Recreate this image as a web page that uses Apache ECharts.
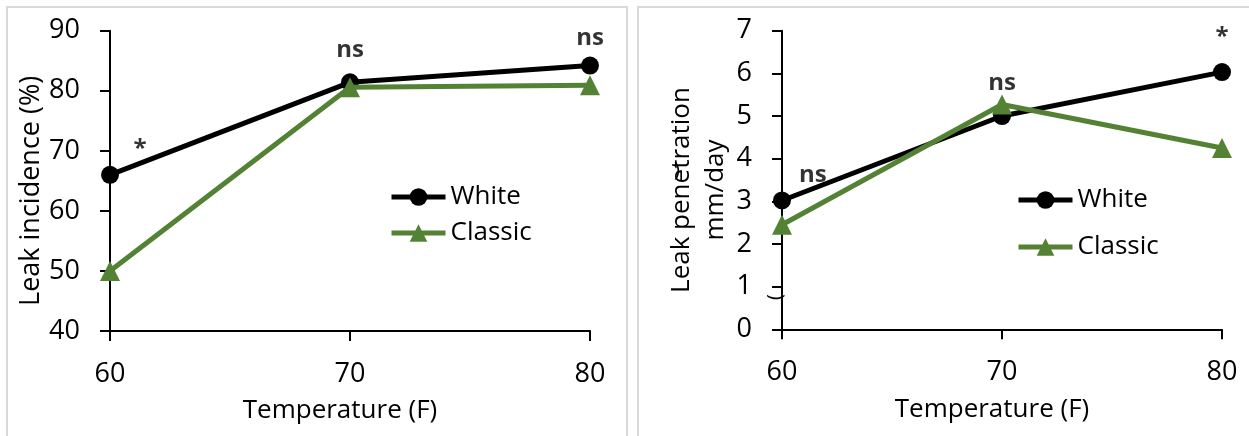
<!DOCTYPE html>
<html>
<head>
<meta charset="utf-8">
<script src="https://cdn.jsdelivr.net/npm/echarts@6/dist/echarts.min.js"></script>
<style>
  html, body { margin: 0; padding: 0; background: #fff; }
  #chart { width: 1249px; height: 436px; }
</style>
</head>
<body>
<div id="chart"></div>
<script>
// temperatures (F)
const temps = [60, 70, 80]
// leak incidence (%)
const incidenceWhite = [66, 81.4, 84.2]
const incidenceClassic = [50, 80.6, 80.9]
// leak penetration (mm/day)
const penetrationWhite = [3.02, 5.0, 6.03]
const penetrationClassic = [2.45, 5.27, 4.25]
// significance marks: [temperature, value, text]
const marksLeft = [[61.25, 70.3, '*'], [70, 86.8, 'ns'], [80, 88.8, 'ns']]
const marksRight = [[61.4, 3.62, 'ns'], [70, 5.77, 'ns'], [80, 6.85, '*']]

const BLACK = '#000000'
const GREEN = '#548235'
const FONT = 'Open Sans'

const pairs = (ys) => temps.map((t, i) => [t, ys[i]])

const axisLine = { show: true, onZero: false, lineStyle: { color: BLACK, width: 2 } }
const axisTick = { show: true, inside: false, length: 10, lineStyle: { color: BLACK, width: 2 } }
const axisLabel = { color: BLACK, fontSize: 27, fontFamily: FONT, margin: 30 }

const xAxisOf = (idx) => ({
  type: 'value', gridIndex: idx, min: 60, max: 80, interval: 10,
  axisLine, axisTick, axisLabel, splitLine: { show: false },
  name: 'Temperature (F)', nameLocation: 'middle', nameGap: 67,
  nameTextStyle: { color: BLACK, fontSize: 26, fontFamily: FONT, padding: [0, 20, 0, 0] }
})

const lineSeries = (name, data, idx, color, symbol, size) => ({
  name, type: 'line', xAxisIndex: idx, yAxisIndex: idx, data,
  symbol, symbolSize: size, showAllSymbol: true,
  lineStyle: { color, width: 5 },
  itemStyle: { color },
  z: name === 'Classic' ? 3 : 2
})

const markSeries = (marks, idx) => ({
  type: 'scatter', xAxisIndex: idx, yAxisIndex: idx, symbolSize: 0,
  data: marks.map(m => ({ value: [m[0], m[1]], text: m[2] })),
  label: {
    show: true, position: 'inside', color: BLACK, fontSize: 24, fontWeight: 'bold',
    fontFamily: FONT, formatter: p => p.data.text
  },
  silent: true, z: 5
})

const legendOf = (left, top, gap) => ({
  data: ['White', 'Classic'], orient: 'vertical', left, top, padding: 0,
  itemWidth: 54, itemHeight: 22, itemGap: gap,
  lineStyle: { width: 5 },
  textStyle: { color: BLACK, fontSize: 26, fontFamily: FONT, padding: [0, 0, 0, 0] }
})

const option = {
  animation: false,
  textStyle: { fontFamily: FONT },
  grid: [
    { left: 110, top: 30.7, width: 480, height: 300.3 },
    { left: 782, top: 30.7, width: 440, height: 298.6 }
  ],
  xAxis: [xAxisOf(0), xAxisOf(1)],
  yAxis: [
    {
      type: 'value', gridIndex: 0, min: 40, max: 90, interval: 10,
      axisLine, axisTick, axisLabel, splitLine: { show: false },
      name: 'Leak incidence (%)', nameLocation: 'middle', nameGap: 52,
      nameTextStyle: { color: BLACK, fontSize: 27, fontFamily: FONT, padding: [0, 20, 0, 0] }
    },
    {
      type: 'value', gridIndex: 1, min: 0, max: 7, interval: 1,
      axisLine, axisTick, axisLabel, splitLine: { show: false },
      name: 'Leak penetration\nmm/day', nameLocation: 'middle', nameGap: 48,
      nameTextStyle: { color: BLACK, fontSize: 26, fontFamily: FONT, lineHeight: 34, padding: [0, 20, 0, 0] }
    }
  ],
  legend: [legendOf(389, 184, 10), legendOf(1016, 187, 21)],
  series: [
    lineSeries('White', pairs(incidenceWhite), 0, BLACK, 'circle', 18),
    lineSeries('Classic', pairs(incidenceClassic), 0, GREEN, 'triangle', 20),
    lineSeries('White', pairs(penetrationWhite), 1, BLACK, 'circle', 18),
    lineSeries('Classic', pairs(penetrationClassic), 1, GREEN, 'triangle', 20),
    markSeries(marksLeft, 0),
    markSeries(marksRight, 1)
  ],
  graphic: [
    { type: 'rect', shape: { x: 7, y: 7, width: 620, height: 440 }, style: { fill: 'none', stroke: '#d9d9d9', lineWidth: 2 }, silent: true },
    { type: 'rect', shape: { x: 638, y: 7, width: 620, height: 440 }, style: { fill: 'none', stroke: '#d9d9d9', lineWidth: 2 }, silent: true },
    { type: 'text', x: 674, y: 160, style: { text: ')', fontSize: 20, fontFamily: FONT, fill: BLACK }, silent: true },
    { type: 'text', x: 765, y: 300, rotation: Math.PI / 2, style: { text: '(', fontSize: 20, fontFamily: FONT, fill: BLACK }, silent: true }
  ]
}

const myChart = echarts.init(document.getElementById('chart'))
option && myChart.setOption(option)
</script>
</body>
</html>
